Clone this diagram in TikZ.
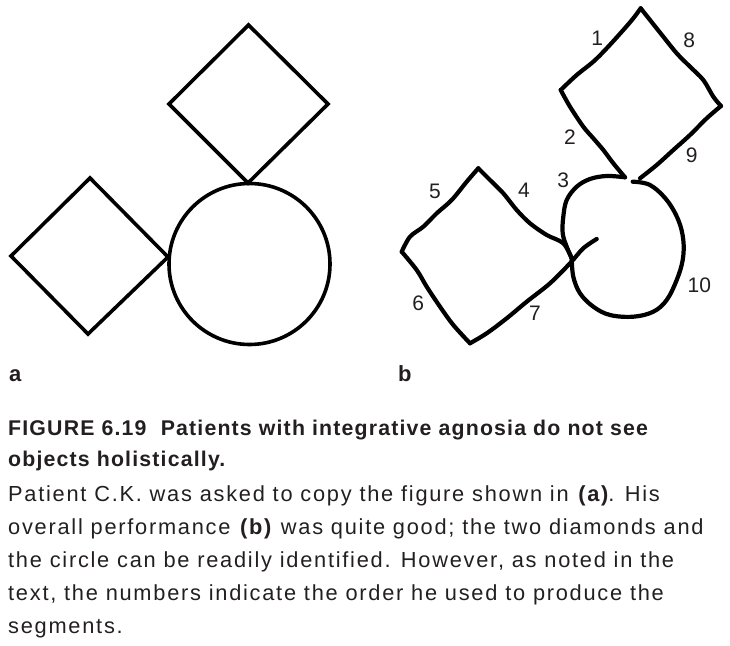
\documentclass[tikz,border=0pt]{standalone}
\usepackage{fontspec}
\setmainfont{Liberation Sans}
\newfontfamily\bodyfont[LetterSpace=8]{Liberation Sans}
\newfontfamily\headfont[LetterSpace=5.5]{Liberation Sans}
\usetikzlibrary{positioning}
\definecolor{ink}{HTML}{231F20}
\tikzset{
  shapeline/.style={draw=black,line width=3.6pt,line join=miter},
  handline/.style={draw=black,line width=4.2pt,line cap=round,line join=round},
  seglabel/.style={font=\fontsize{21}{21}\selectfont,text=ink,inner sep=0pt},
  panellabel/.style={font=\fontsize{22}{22}\selectfont\bfseries,text=ink,
                     inner sep=0pt,anchor=base west},
  headtext/.style={font=\fontsize{21.3}{31.7}\selectfont\headfont\bfseries,text=ink,
                   inner sep=0pt,anchor=base west,align=left},
  bodytext/.style={font=\fontsize{21.8}{33}\selectfont\bodyfont,text=ink,
                   inner sep=0pt,anchor=base west,align=left}
}

\begin{document}
\begin{tikzpicture}[x=1pt,y=-1pt]
  \path[use as bounding box] (0,0) rectangle (730,645);
  % (a) the model figure
  \draw[shapeline] (248.5,25) -- (328,104) -- (248,183) -- (169,104) -- cycle;
  \draw[shapeline] (90,178) -- (168,257) -- (88,334) -- (11,256) -- cycle;
  \draw[shapeline] (249.5,264) circle (80.5);

  % (b) the copy, corners first
  \coordinate (uTop) at (640.7,8.3);
  \coordinate (uLeft) at (560.7,90);
  \coordinate (uRight) at (721,106);
  \coordinate (uTipA) at (625,177.3);
  \coordinate (uTipB) at (640,178.3);
  \coordinate (lTop) at (478.3,168.3);
  \coordinate (lLeft) at (401.7,251.7);
  \coordinate (lBottom) at (470,343.3);
  \coordinate (joint) at (571.7,258.3);
  \coordinate (hookEnd) at (596.7,239);
  \coordinate (cStart) at (632.7,181.7);

  \draw[handline] plot[smooth,tension=0.55] coordinates {(uTipA) (613.3,163.3) (603.3,150)
    (593.3,138.3) (583.3,126.7) (570,106.7) (uLeft)};
  \draw[handline] plot[smooth,tension=0.55] coordinates {(uLeft) (576.7,75) (593.3,61.7)
    (606.7,48.3) (623.3,30) (633.3,18.3) (uTop)};
  \draw[handline] plot[smooth,tension=0.55] coordinates {(uTop) (650,20) (663.3,36.7)
    (676.7,53.3) (690,66.7) (703.3,80) (713.3,96.7) (uRight)};
  \draw[handline] plot[smooth,tension=0.55] coordinates {(uRight) (706.7,118.3) (690,135)
    (673.3,150) (656.7,165) (uTipB)};
  \draw[handline] plot[smooth,tension=0.6] coordinates {(uTipA) (606.7,176) (590,179)
    (576.7,186.7) (566.7,200) (563.3,216.7) (562.7,233.3) (566.7,246.7) (joint)};
  \draw[handline] plot[smooth,tension=0.6] coordinates {(cStart) (650,185) (666.7,200)
    (678.3,220) (683.3,240) (682.7,260) (676.7,280) (666.7,300) (653.3,311.7)
    (633.3,316.7) (610,315) (593.3,306.7) (580,293.3) (573.3,276.7) (joint)};
  \draw[handline] plot[smooth,tension=0.55] coordinates {(lTop) (490,180) (503.3,193.3)
    (516.7,210) (530,223.3) (546.7,235) (563.3,243.3) (joint)};
  \draw[handline] plot[smooth,tension=0.55] coordinates {(lTop) (466.7,181.7) (451.7,200)
    (436.7,213.3) (423.3,226.7) (410,236.7) (lLeft)};
  \draw[handline] plot[smooth,tension=0.55] coordinates {(lLeft) (416.7,270) (426.7,286.7)
    (440,306.7) (453.3,325) (lBottom)};
  \draw[handline] plot[smooth,tension=0.55] coordinates {(lBottom) (486.7,333.3)
    (506.7,318.3) (526.7,301.7) (550,283.3) (570,263.3) (583.3,248.3) (hookEnd)};

  % order of the segments
  \node[seglabel] (n1) at (597.3,38.3) {1};
  \node[seglabel] (n2) at (570,136.7) {2};
  \node[seglabel] (n3) at (563.3,180) {3};
  \node[seglabel] (n4) at (524,190) {4};
  \node[seglabel] (n5) at (435,191.7) {5};
  \node[seglabel] (n6) at (418.3,303.3) {6};
  \node[seglabel] (n7) at (535,313.3) {7};
  \node[seglabel] (n8) at (689.3,40) {8};
  \node[seglabel] (n9) at (691.7,155) {9};
  \node[seglabel] (n10) at (699.3,285) {10};

  \node[panellabel] (la) at (9,381) {a};
  \node[panellabel] (lb) at (398,381.5) {b};

  % caption (anchored at the baseline of its last line)
  \node[headtext] (head) at (8,466.7) {FIGURE 6.19\ \ Patients with integrative agnosia do not see\\
    objects holistically.};
  \node[bodytext] (body) at (8,633.3) {Patient C.K. was asked to copy the figure shown in \textbf{(a)}. His\\
    overall performance \textbf{(b)} was quite good; the two diamonds and\\
    the circle can be readily identified. However, as noted in the\\
    text, the numbers indicate the order he used to produce the\\
    segments.};
\end{tikzpicture}
\end{document}
